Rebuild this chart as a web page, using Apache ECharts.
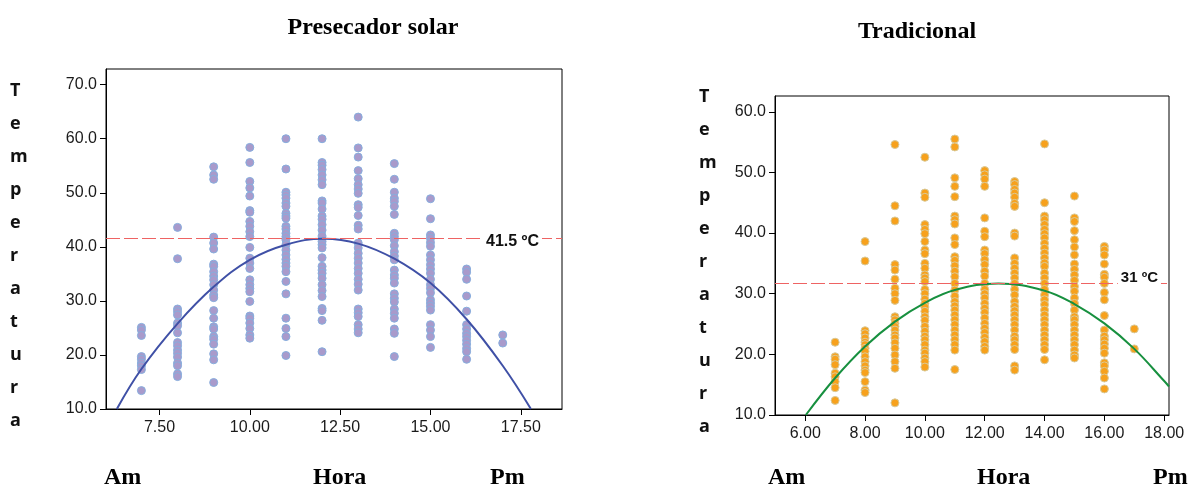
<!DOCTYPE html>
<html>
<head>
<meta charset="utf-8">
<script src="https://cdn.jsdelivr.net/npm/echarts@6/dist/echarts.min.js"></script>
<style>
  html, body { margin: 0; padding: 0; background: #fff; }
  #chart { width: 1197px; height: 494px; }
</style>
</head>
<body>
<div id="chart"></div>
<script>
// Presecador solar: temperatures per hour (each column of dots)
const leftHours = [7, 8, 9, 10, 11, 12, 13, 14, 15, 16, 17]
const leftTemps = [
  [25.1, 24.6, 23.6, 19.7, 19.2, 18.5, 18.0, 17.3, 13.4],
  [43.6, 37.8, 28.5, 28.0, 27.4, 25.9, 25.4, 24.1, 22.3, 21.7, 20.9, 20.3, 19.6, 18.5, 18.0, 16.5, 16.0],
  [54.8, 53.3, 52.5, 41.8, 40.7, 39.6, 36.8, 36.4, 35.4, 34.6, 33.9, 33.0, 32.0, 31.1, 30.6, 28.2, 26.8, 25.2, 24.8, 23.4, 22.9, 22.0, 20.2, 19.1, 14.9],
  [58.4, 55.6, 52.1, 50.9, 49.4, 46.7, 46.4, 44.7, 43.8, 42.8, 41.9, 39.9, 37.9, 37.0, 36.0, 33.9, 33.0, 32.3, 31.7, 29.9, 27.2, 26.8, 25.9, 24.9, 23.7, 23.1],
  [60.0, 54.4, 50.1, 49.6, 49.0, 48.1, 47.5, 46.2, 45.7, 45.3, 43.8, 43.3, 42.5, 41.9, 41.3, 40.4, 39.4, 38.5, 37.7, 37.0, 36.4, 35.4, 33.6, 31.3, 26.8, 24.9, 23.4, 19.9],
  [60.0, 55.6, 55.1, 54.3, 53.3, 52.4, 51.5, 48.5, 48.1, 47.0, 45.7, 45.1, 44.1, 43.1, 42.0, 41.0, 40.4, 39.8, 38.0, 36.4, 35.7, 35.1, 34.2, 33.0, 31.9, 30.8, 28.6, 28.2, 26.4, 20.6],
  [64.0, 58.3, 56.6, 54.1, 52.6, 51.5, 50.7, 49.9, 47.8, 47.3, 45.8, 44.0, 43.3, 40.7, 39.8, 38.8, 37.9, 37.0, 36.0, 35.1, 34.0, 33.1, 32.0, 28.5, 27.8, 27.1, 25.6, 24.8, 24.1],
  [55.4, 52.5, 50.1, 49.0, 48.4, 47.5, 46.0, 42.5, 41.9, 41.3, 40.2, 39.1, 38.3, 37.6, 35.7, 34.8, 34.2, 33.3, 31.3, 30.5, 29.8, 28.5, 27.7, 26.8, 24.8, 24.0, 19.7],
  [48.9, 45.2, 42.2, 41.6, 40.8, 40.1, 38.5, 37.6, 36.7, 35.9, 35.1, 34.0, 33.0, 32.3, 31.5, 30.2, 29.6, 29.0, 28.3, 25.6, 24.6, 23.4, 21.4],
  [35.9, 35.3, 34.0, 30.9, 28.1, 25.6, 24.8, 24.0, 23.4, 22.7, 22.0, 21.2, 20.6, 19.2],
  [23.7, 22.2]
]
// fitted curve
const leftFitX = [6.32, 7, 8, 9, 10, 11, 12.05, 13, 14, 15, 16, 17, 17.78]
const leftFitY = [10, 17.4, 25.8, 32.6, 37.6, 40.4, 41.5, 40.6, 37.8, 33.3, 26.6, 18.0, 10]
const leftRef = 41.5

// Tradicional
const rightHours = [7, 8, 9, 10, 11, 12, 13, 14, 15, 16, 17]
const rightTemps = [
  [22.0, 19.6, 19.2, 18.3, 16.9, 16.3, 15.5, 14.5, 12.4],
  [38.6, 35.4, 23.9, 23.4, 22.7, 22.0, 21.6, 21.0, 20.5, 19.6, 18.8, 18.1, 17.4, 17.0, 15.5, 14.1, 13.7],
  [54.6, 44.5, 42.0, 34.8, 33.9, 32.4, 30.9, 30.0, 28.9, 26.2, 25.7, 25.1, 24.6, 24.0, 23.2, 22.7, 21.9, 21.0, 19.9, 18.8, 17.7, 12.0],
  [52.5, 46.6, 45.9, 41.4, 40.6, 39.9, 38.6, 37.2, 36.6, 35.0, 34.2, 33.1, 32.6, 32.0, 30.7, 30.0, 29.1, 28.4, 27.8, 27.1, 26.2, 25.6, 24.6, 23.8, 23.0, 22.4, 21.6, 20.7, 20.2, 19.4, 18.8, 17.9],
  [55.5, 54.2, 49.1, 47.7, 46.0, 42.8, 42.2, 41.5, 39.2, 38.1, 36.1, 35.5, 34.6, 33.7, 32.8, 31.7, 30.6, 29.6, 28.7, 28.0, 27.3, 26.5, 25.7, 24.9, 24.0, 23.2, 22.4, 21.6, 20.7, 17.5],
  [50.3, 49.6, 48.9, 47.7, 42.5, 40.3, 39.4, 37.2, 36.6, 35.6, 34.8, 33.7, 32.9, 31.7, 30.7, 30.0, 29.3, 28.4, 27.6, 26.9, 26.0, 25.1, 24.3, 23.6, 22.8, 22.1, 21.3, 20.7],
  [48.5, 48.0, 47.2, 46.6, 45.9, 44.9, 44.4, 40.0, 39.5, 35.9, 35.0, 34.2, 33.4, 32.6, 31.7, 30.7, 29.8, 28.7, 27.9, 27.2, 26.5, 25.7, 24.9, 24.0, 23.0, 22.4, 21.6, 20.8, 18.1, 17.4],
  [54.7, 45.0, 42.8, 42.2, 41.4, 40.6, 39.9, 39.2, 38.3, 37.5, 36.7, 35.9, 35.1, 34.5, 33.4, 32.6, 31.7, 30.7, 29.8, 29.0, 28.2, 27.3, 26.5, 25.7, 24.9, 24.0, 23.2, 22.4, 21.6, 20.8, 19.1],
  [46.1, 42.5, 41.9, 40.4, 38.9, 37.7, 36.4, 34.9, 34.0, 33.1, 32.2, 31.2, 30.4, 29.3, 28.4, 27.3, 26.2, 25.7, 24.9, 24.0, 23.2, 22.4, 21.6, 20.7, 19.9, 19.4],
  [37.8, 37.2, 36.4, 34.9, 33.2, 32.7, 31.7, 30.2, 29.0, 26.4, 24.0, 23.0, 22.4, 21.7, 21.0, 20.2, 18.6, 18.1, 17.2, 16.1, 14.3],
  [24.2, 20.9]
]
const rightFitX = [6.02, 7, 8, 9, 10, 11, 12.46, 14, 15, 16, 17, 18, 18.16]
const rightFitY = [10, 16.1, 21.3, 25.4, 28.5, 30.6, 31.7, 30.5, 28.3, 25.1, 20.9, 15.6, 14.7]
const rightRef = 31.7

const leftXTicks = [7.5, 10, 12.5, 15, 17.5]
const leftYTicks = [10, 20, 30, 40, 50, 60, 70]
const rightXTicks = [6, 8, 10, 12, 14, 16, 18]
const rightYTicks = [10, 20, 30, 40, 50, 60]

function toPoints(hours, temps) {
  const out = []
  hours.forEach((h, i) => temps[i].forEach(t => out.push([h, t])))
  return out
}
function zip(xs, ys) {
  return xs.map((x, i) => [x, ys[i]])
}

const labelFont = { color: '#1a1a1a', fontSize: 16, fontFamily: 'Liberation Sans' }

function xAxisOf(gridIndex, min, max, ticks) {
  return {
    type: 'value', gridIndex, min, max,
    axisLine: { show: true, onZero: false, lineStyle: { color: '#000', width: 1 } },
    axisTick: { show: true, length: 6, customValues: ticks, lineStyle: { color: '#000' } },
    axisLabel: { ...labelFont, margin: 11, customValues: ticks, formatter: v => v.toFixed(2) },
    splitLine: { show: false }
  }
}
function yAxisOf(gridIndex, min, max, ticks) {
  return {
    type: 'value', gridIndex, min, max,
    axisLine: { show: true, onZero: false, lineStyle: { color: '#000', width: 1 } },
    axisTick: { show: true, length: 6, customValues: ticks, lineStyle: { color: '#000' } },
    axisLabel: { ...labelFont, margin: 9, customValues: ticks, formatter: v => v.toFixed(1) },
    splitLine: { show: false }
  }
}

// dashed reference line plus its label, as an empty series
function refSeries(axis, value, labelX, text, fontSize, offsetY) {
  return {
    type: 'line', xAxisIndex: axis, yAxisIndex: axis, data: [], z: 3,
    markLine: {
      silent: true, symbol: 'none', label: { show: false },
      lineStyle: { color: '#EE6363', width: 1, type: [14, 4], opacity: 1 },
      emphasis: { disabled: true },
      data: [{ yAxis: value }]
    },
    markPoint: {
      silent: true, symbol: 'rect', symbolSize: 0,
      label: {
        show: true, position: 'inside', formatter: text, offset: [0, offsetY],
        color: '#111', fontSize, fontWeight: 'bold', fontFamily: 'Liberation Sans',
        backgroundColor: '#fff', padding: [1, 3]
      },
      data: [{ coord: [labelX, value] }]
    }
  }
}

const letters = 'Temperatura'.split('').join('\n')
const sideText = (x, y) => ({
  type: 'text', left: x, top: y,
  style: { text: letters, font: 'bold 18px "Open Sans"', fill: '#111', lineHeight: 33, align: 'center' }
})
const footText = (x, text) => ({
  type: 'text', left: x, top: 466,
  style: { text, font: 'bold 24px "Liberation Serif"', fill: '#000' }
})

const chart = echarts.init(document.getElementById('chart'))
chart.setOption({
  animation: false,
  backgroundColor: '#fff',
  title: [
    { text: 'Presecador solar', left: 368, top: 11, textAlign: 'center',
      textStyle: { fontFamily: 'Liberation Serif', fontWeight: 'bold', fontSize: 24, color: '#000' } },
    { text: 'Tradicional', left: 912, top: 15, textAlign: 'center',
      textStyle: { fontFamily: 'Liberation Serif', fontWeight: 'bold', fontSize: 24, color: '#000' } }
  ],
  grid: [
    { left: 106, top: 69, width: 456, height: 340, show: true, borderColor: '#000', borderWidth: 1, backgroundColor: '#fff' },
    { left: 775, top: 96, width: 394, height: 319, show: true, borderColor: '#000', borderWidth: 1, backgroundColor: '#fff' }
  ],
  xAxis: [
    xAxisOf(0, 6.02, 18.64, leftXTicks),
    xAxisOf(1, 4.99, 18.16, rightXTicks)
  ],
  yAxis: [
    yAxisOf(0, 10, 72.9, leftYTicks),
    yAxisOf(1, 10, 62.6, rightYTicks)
  ],
  graphic: [
    sideText(10, 74),
    sideText(699, 80),
    footText(104, 'Am'), footText(313, 'Hora'), footText(490, 'Pm'),
    footText(768, 'Am'), footText(977, 'Hora'), footText(1153, 'Pm')
  ],
  series: [
    {
      type: 'scatter', xAxisIndex: 0, yAxisIndex: 0,
      data: toPoints(leftHours, leftTemps),
      symbolSize: 8,
      itemStyle: { color: '#A99ACB', borderColor: '#86AEDE', borderWidth: 1, opacity: 1 }
    },
    refSeries(0, leftRef, 17.27, '41.5 ºC', 16, 3),
    {
      type: 'line', xAxisIndex: 0, yAxisIndex: 0,
      data: zip(leftFitX, leftFitY), smooth: 0.4, showSymbol: false, z: 4,
      lineStyle: { color: '#3F50A6', width: 2 }
    },
    {
      type: 'scatter', xAxisIndex: 1, yAxisIndex: 1,
      data: toPoints(rightHours, rightTemps),
      symbolSize: 8,
      itemStyle: { color: '#F7A11C', borderColor: '#D8CA9A', borderWidth: 1, opacity: 1 }
    },
    refSeries(1, rightRef, 17.17, '31 ºC', 15, -6),
    {
      type: 'line', xAxisIndex: 1, yAxisIndex: 1,
      data: zip(rightFitX, rightFitY), smooth: 0.4, showSymbol: false, z: 4,
      lineStyle: { color: '#17903F', width: 2 }
    }
  ]
})
</script>
</body>
</html>
